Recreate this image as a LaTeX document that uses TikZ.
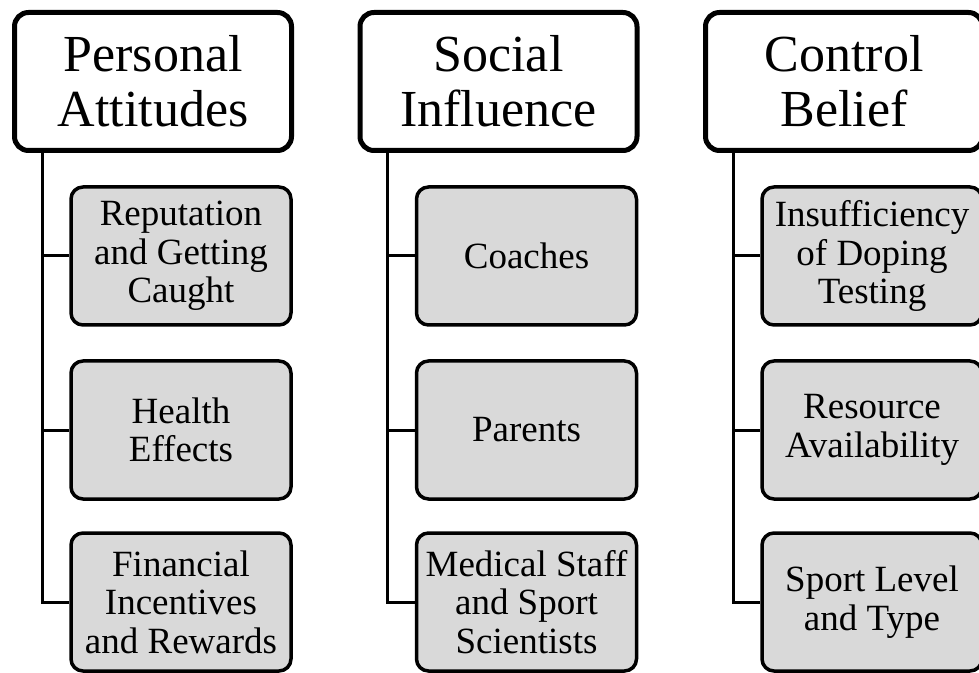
\documentclass[tikz,border=0pt]{standalone}
\usepackage{fontspec}
\setmainfont{Liberation Serif}
\usepackage{xcolor}
\definecolor{boxgray}{RGB}{217,217,217}
\usetikzlibrary{calc}

\begin{document}
\begin{tikzpicture}[x=0.5pt, y=-0.5pt,
    head/.style={rectangle, rounded corners=7pt, draw, line width=2.5pt, fill=white,
      minimum width=138.5pt, minimum height=69pt, align=center,
      font=\fontsize{26}{27.5}\selectfont},
    item/.style={rectangle, rounded corners=6pt, draw, line width=1.75pt, fill=boxgray,
      minimum width=110pt, minimum height=69pt, align=center,
      font=\fontsize{18.5}{19.3}\selectfont},
    link/.style={line width=1.5pt}]
    \useasboundingbox (0,0) rectangle (979,673);
    \clip (0,0) rectangle (979,673);

    \node[head] (pa) at (153, 81.5) {Personal\\Attitudes};
    \node[head] (si) at (498.5, 81.5) {Social\\Influence};
    \node[head] (cb) at (844, 81.5) {Control\\Belief};

    \node[item] (pa1) at (181, 256) {Reputation\\and Getting\\Caught};
    \node[item] (pa2) at (181, 430) {Health\\Effects};
    \node[item] (pa3) at (181, 602) {Financial\\Incentives\\and Rewards};

    \node[item] (si1) at (526.5, 256) {Coaches};
    \node[item] (si2) at (526.5, 430) {Parents};
    \node[item] (si3) at (526.5, 602) {Medical Staff\\and Sport\\Scientists};

    \node[item] (cb1) at (872, 256) {Insufficiency\\of Doping\\Testing};
    \node[item] (cb2) at (872, 430) {Resource\\Availability};
    \node[item] (cb3) at (872, 602) {Sport Level\\and Type};

    \foreach \c in {pa, si, cb}
      \foreach \i in {1, 2, 3}
        \draw[link] ($(\c.south west)+(30,0)$) |- (\c\i.west);
\end{tikzpicture}
\end{document}
